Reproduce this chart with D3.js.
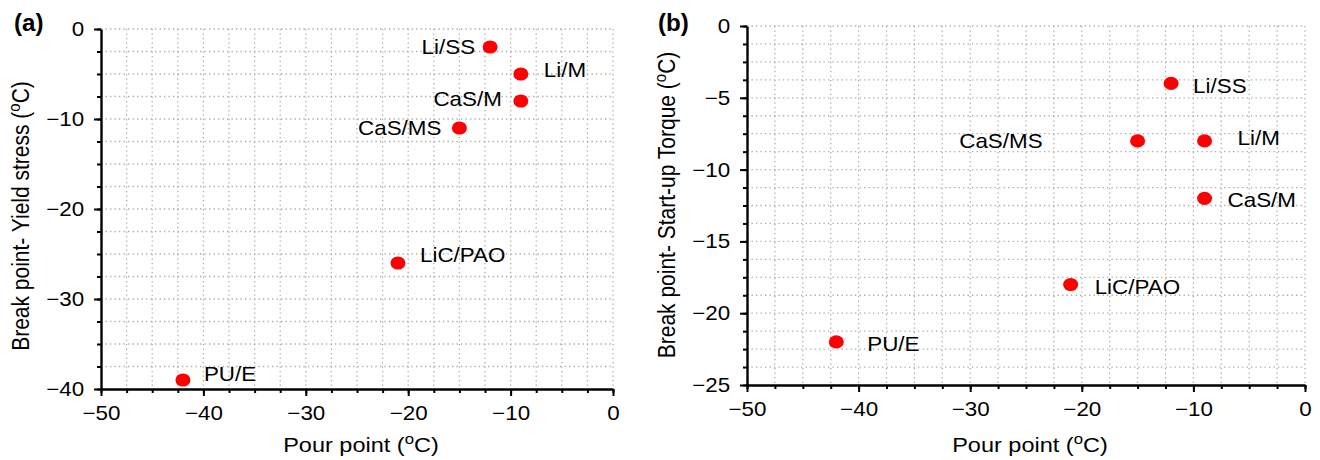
<!DOCTYPE html>
<html><head><meta charset="utf-8">
<script src="https://cdn.jsdelivr.net/npm/d3@7"></script>
<style>
html,body{margin:0;padding:0;background:#fff;}
text{font-family:"Liberation Sans",Arial,sans-serif;fill:#000;}
</style></head>
<body><svg id="c" width="1320" height="460"></svg>
<script>
// ---- data ----
const namesA = ["Li/SS","Li/M","CaS/M","CaS/MS","LiC/PAO","PU/E"];
const pourA  = [-12,-9,-9,-15,-21,-42];
const yieldA = [-2,-5,-8,-11,-26,-39];
const namesB = ["Li/SS","Li/M","CaS/MS","CaS/M","LiC/PAO","PU/E"];
const pourB  = [-12,-9,-15,-9,-21,-42];
const torqueB= [-4,-8,-8,-12,-18,-22];
const xTicks = [-50,-40,-30,-20,-10,0];
const yTicksA = [-40,-30,-20,-10,0];
const yTicksB = [-25,-20,-15,-10,-5,0];

// ---- layout (label placement, not data) ----
const labelPosA = [[-15,0,"end"],[23,-4,"start"],[-19,-2,"end"],[-18,0,"end"],[22,-8,"start"],[21,-6,"start"]];
const labelPosB = [[22,2,"start"],[33,-3,"start"],[-95,0,"end"],[23,1,"start"],[24,2,"start"],[31,2,"start"]];

const SX = 1.12; // horizontal stretch of text in reference
const svg = d3.select("#c");

function panel(opt){
  const x = d3.scaleLinear().domain([-50,0]).range(opt.xr);
  const y = d3.scaleLinear().domain(opt.yd).range(opt.yr);
  const g = svg.append("g");
  // grid
  const gx = d3.range(-50+2.5, 0.001, 2.5);
  const gy = d3.range(opt.yd[0]+opt.ystep, 0.001, opt.ystep);
  g.append("g").selectAll("line").data(gx).join("line")
    .attr("x1",d=>x(d)).attr("x2",d=>x(d)).attr("y1",y(0)).attr("y2",y(opt.yd[0]))
    .attr("stroke","#aaa").attr("stroke-width",1.3).attr("stroke-dasharray","1.3,3.2");
  g.append("g").selectAll("line").data(gy).join("line")
    .attr("y1",d=>y(d)).attr("y2",d=>y(d)).attr("x1",x(-50)).attr("x2",x(0))
    .attr("stroke","#aaa").attr("stroke-width",1.3).attr("stroke-dasharray","1.3,3.2");
  // minor ticks
  const minorX = d3.range(-50,0.001,2.5);
  const minorY = d3.range(opt.yd[0],0.001,opt.ystep);
  g.append("g").attr("transform",`translate(0,${y(opt.yd[0])})`)
    .call(d3.axisBottom(x).tickValues(minorX).tickSize(4).tickFormat(""))
    .call(s=>{s.select(".domain").remove(); s.selectAll("line").attr("stroke-width",2);});
  g.append("g").attr("transform",`translate(${x(-50)},0)`)
    .call(d3.axisLeft(y).tickValues(minorY).tickSize(4).tickFormat(""))
    .call(s=>{s.select(".domain").remove(); s.selectAll("line").attr("stroke-width",2);});
  // major axes
  const fmt = d=> d<0 ? "\u2212"+Math.abs(d) : String(d);
  g.append("g").attr("transform",`translate(0,${y(opt.yd[0])})`)
    .call(d3.axisBottom(x).tickValues(xTicks).tickSize(7).tickSizeOuter(0).tickPadding(10).tickFormat(fmt))
    .call(s=>{
      s.select(".domain").attr("stroke-width",2.4);
      s.selectAll(".tick line").attr("stroke-width",2);
      s.selectAll("text").attr("font-size",20).attr("font-family","Liberation Sans, Arial, sans-serif")
        .attr("transform",`scale(${SX},1)`);
    });
  g.append("g").attr("transform",`translate(${x(-50)},0)`)
    .call(d3.axisLeft(y).tickValues(opt.yticks).tickSize(7).tickSizeOuter(0).tickPadding(8).tickFormat(fmt))
    .call(s=>{
      s.select(".domain").attr("stroke-width",2.4);
      s.selectAll(".tick line").attr("stroke-width",2);
      s.selectAll("text").attr("font-size",20).attr("font-family","Liberation Sans, Arial, sans-serif")
        .attr("transform",`scale(${SX},1)`);
    });
  // points
  g.append("g").selectAll("ellipse").data(opt.xs).join("ellipse")
    .attr("cx",(d,i)=>x(opt.xs[i])).attr("cy",(d,i)=>y(opt.ys[i]))
    .attr("rx",7.5).attr("ry",6.6).attr("fill","#ff0000");
  // labels
  g.append("g").selectAll("text").data(opt.names).join("text")
    .attr("transform",(d,i)=>`translate(${x(opt.xs[i])+opt.lp[i][0]},${y(opt.ys[i])+opt.lp[i][1]}) scale(${SX},1)`)
    .attr("text-anchor",(d,i)=>opt.lp[i][2]).attr("dy","0.36em")
    .attr("font-size",20).text(d=>d);
  // x title
  const xt = g.append("text")
    .attr("transform",`translate(${(x(-50)+x(0))/2+4},452) scale(${SX},1)`)
    .attr("text-anchor","middle").attr("font-size",21);
  xt.append("tspan").text("Pour point (");
  xt.append("tspan").attr("font-size",15).attr("dy","-0.55em").text("o");
  xt.append("tspan").attr("dy","0.39em").text("C)");
  // y title
  const yt = g.append("text")
    .attr("transform",`translate(${opt.ytx},${opt.yty}) rotate(-90) scale(1,${SX})`)
    .attr("text-anchor","middle").attr("font-size",21);
  yt.append("tspan").text(opt.ytitle+" (");
  yt.append("tspan").attr("font-size",15).attr("dy","-0.55em").text("o");
  yt.append("tspan").attr("dy","0.39em").text("C)");
  // panel tag
  g.append("text").attr("transform",`translate(${opt.tagx},31) scale(1.05,1)`)
    .attr("font-size",23).attr("font-weight","bold").text(opt.tag);
}

panel({xr:[101,613], yr:[389,29], yd:[-40,0], ystep:2.5, yticks:yTicksA,
  xs:pourA, ys:yieldA, names:namesA, lp:labelPosA,
  ytitle:"Break point- Yield stress", ytx:29, yty:216, tag:"(a)", tagx:14});
panel({xr:[747,1305], yr:[385,26], yd:[-25,0], ystep:1.25, yticks:yTicksB,
  xs:pourB, ys:torqueB, names:namesB, lp:labelPosB,
  ytitle:"Break point- Start-up Torque", ytx:675, yty:205, tag:"(b)", tagx:658});
</script></body></html>
